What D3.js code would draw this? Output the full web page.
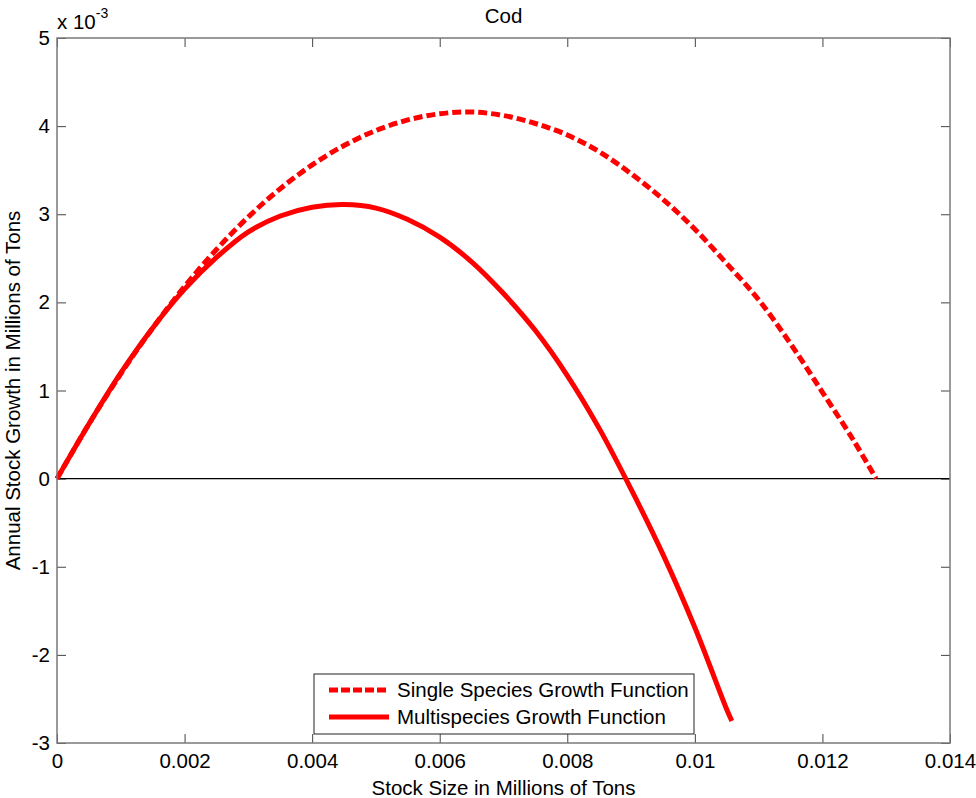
<!DOCTYPE html>
<html>
<head>
<meta charset="utf-8">
<script src="https://cdn.jsdelivr.net/npm/d3@7"></script>
<style>
  html, body { margin: 0; padding: 0; background: #fff; }
  svg { display: block; font-family: "Liberation Sans", Arial, Helvetica, sans-serif; }
</style>
</head>
<body>
<div id="chart"></div>
<script>
// stock size (millions of tons) and growth (x 10^-3 millions of tons)
const singleStock = [0, 0.0005, 0.001, 0.0015, 0.002, 0.0025, 0.003, 0.0035, 0.004, 0.0045,
  0.005, 0.0055, 0.006, 0.0065, 0.007, 0.0075, 0.008, 0.0085, 0.009, 0.0095,
  0.01, 0.0105, 0.011, 0.0115, 0.012, 0.0125, 0.01284];
const singleGrowth = [0, 0.62, 1.19, 1.71, 2.18, 2.60, 2.97, 3.29, 3.56, 3.78,
  3.95, 4.07, 4.14, 4.16, 4.12, 4.03, 3.90, 3.71, 3.46, 3.17,
  2.83, 2.44, 2.03, 1.53, 0.98, 0.42, 0];

const multiStock = [0, 0.0005, 0.001, 0.0015, 0.002, 0.0025, 0.003, 0.0035, 0.004, 0.0045,
  0.005, 0.0055, 0.006, 0.0065, 0.007, 0.0075, 0.008, 0.0085, 0.009, 0.0095,
  0.01, 0.0105, 0.01058];
const multiGrowth = [0, 0.62, 1.20, 1.71, 2.15, 2.51, 2.80, 2.98, 3.08, 3.11,
  3.07, 2.94, 2.74, 2.46, 2.10, 1.68, 1.17, 0.57, -0.12, -0.86,
  -1.69, -2.62, -2.75];

const xTicks = [0, 0.002, 0.004, 0.006, 0.008, 0.01, 0.012, 0.014];
const xTickLabels = ['0', '0.002', '0.004', '0.006', '0.008', '0.01', '0.012', '0.014'];
const yTicks = [-3, -2, -1, 0, 1, 2, 3, 4, 5];
const yTickLabels = ['-3', '-2', '-1', '0', '1', '2', '3', '4', '5'];

const seriesNames = ['Single Species Growth Function', 'Multispecies Growth Function'];

const width = 976, height = 798;
const margin = { top: 38, right: 26, bottom: 55, left: 57 };

const svg = d3.select('#chart').append('svg')
  .attr('width', width)
  .attr('height', height);

const x = d3.scaleLinear()
  .domain([0, 0.014])
  .range([margin.left, width - margin.right]);

const y = d3.scaleLinear()
  .domain([-3, 5])
  .range([height - margin.bottom, margin.top]);

const fontSize = 20.5;

// axes (ticks pointing inwards, box on)
svg.append('g')
  .attr('transform', `translate(0, ${y(-3)})`)
  .call(d3.axisBottom(x).tickValues(xTicks)
    .tickFormat((d, i) => xTickLabels[i])
    .tickSizeInner(-9).tickSizeOuter(0).tickPadding(10));

svg.append('g')
  .attr('transform', `translate(0, ${y(5)})`)
  .call(d3.axisTop(x).tickValues(xTicks).tickFormat('')
    .tickSizeInner(-9).tickSizeOuter(0));

svg.append('g')
  .attr('transform', `translate(${x(0)}, 0)`)
  .call(d3.axisLeft(y).tickValues(yTicks)
    .tickFormat((d, i) => yTickLabels[i])
    .tickSizeInner(-9).tickSizeOuter(0).tickPadding(7));

svg.append('g')
  .attr('transform', `translate(${x(0.014)}, 0)`)
  .call(d3.axisRight(y).tickValues(yTicks).tickFormat('')
    .tickSizeInner(-9).tickSizeOuter(0));

svg.selectAll('.domain').remove();
svg.selectAll('.tick line').attr('stroke', '#444');
svg.selectAll('.tick text')
  .attr('font-size', fontSize)
  .attr('font-family', '"Liberation Sans", Arial, Helvetica, sans-serif')
  .attr('fill', '#000');

// zero line
svg.append('line')
  .attr('x1', x(0)).attr('x2', x(0.014))
  .attr('y1', y(0)).attr('y2', y(0))
  .attr('stroke', '#000')
  .attr('stroke-width', 1.2);

// curves
const line = d3.line()
  .x(d => x(d[0]))
  .y(d => y(d[1]))
  .curve(d3.curveCatmullRom.alpha(0.5));

svg.append('path')
  .datum(singleStock.map((s, i) => [s, singleGrowth[i]]))
  .attr('d', line)
  .attr('fill', 'none')
  .attr('stroke', '#ff0000')
  .attr('stroke-width', 5)
  .attr('stroke-dasharray', '9,4');

svg.append('path')
  .datum(multiStock.map((s, i) => [s, multiGrowth[i]]))
  .attr('d', line)
  .attr('fill', 'none')
  .attr('stroke', '#ff0000')
  .attr('stroke-width', 5);

// plot frame
svg.append('rect')
  .attr('x', x(0)).attr('y', y(5))
  .attr('width', x(0.014) - x(0))
  .attr('height', y(-3) - y(5))
  .attr('fill', 'none')
  .attr('stroke', '#7a7a7a')
  .attr('stroke-width', 1.5);

// legend
const legend = svg.append('g')
  .attr('transform', 'translate(314, 674)');

legend.append('rect')
  .attr('width', 380)
  .attr('height', 60)
  .attr('fill', '#fff')
  .attr('stroke', '#222')
  .attr('stroke-width', 1);

const legendItems = legend.selectAll('.legend-item')
  .data(seriesNames)
  .enter()
  .append('g')
  .attr('class', 'legend-item')
  .attr('transform', (d, i) => `translate(0, ${16 + i * 27})`);

legendItems.append('line')
  .attr('x1', 15).attr('x2', 75)
  .attr('y1', 0).attr('y2', 0)
  .attr('stroke', '#ff0000')
  .attr('stroke-width', 5)
  .attr('stroke-dasharray', (d, i) => i === 0 ? '9,3' : null);

legendItems.append('text')
  .attr('x', 83)
  .attr('y', 7)
  .attr('font-size', fontSize)
  .text(d => d);

// title and labels
svg.append('text')
  .attr('x', (x(0) + x(0.014)) / 2)
  .attr('y', 23)
  .attr('text-anchor', 'middle')
  .attr('font-size', fontSize)
  .text('Cod');

svg.append('text')
  .attr('x', (x(0) + x(0.014)) / 2)
  .attr('y', 795)
  .attr('text-anchor', 'middle')
  .attr('font-size', fontSize)
  .text('Stock Size in Millions of Tons');

svg.append('text')
  .attr('transform', `translate(20, ${(y(5) + y(-3)) / 2}) rotate(-90)`)
  .attr('text-anchor', 'middle')
  .attr('font-size', fontSize)
  .text('Annual Stock Growth in Millions of Tons');

// exponent label
const expLabel = svg.append('text')
  .attr('x', 57)
  .attr('y', 29)
  .attr('font-size', fontSize);
expLabel.append('tspan').text('x 10');
expLabel.append('tspan')
  .attr('dy', -11)
  .attr('font-size', 14)
  .text('-3');
</script>
</body>
</html>
